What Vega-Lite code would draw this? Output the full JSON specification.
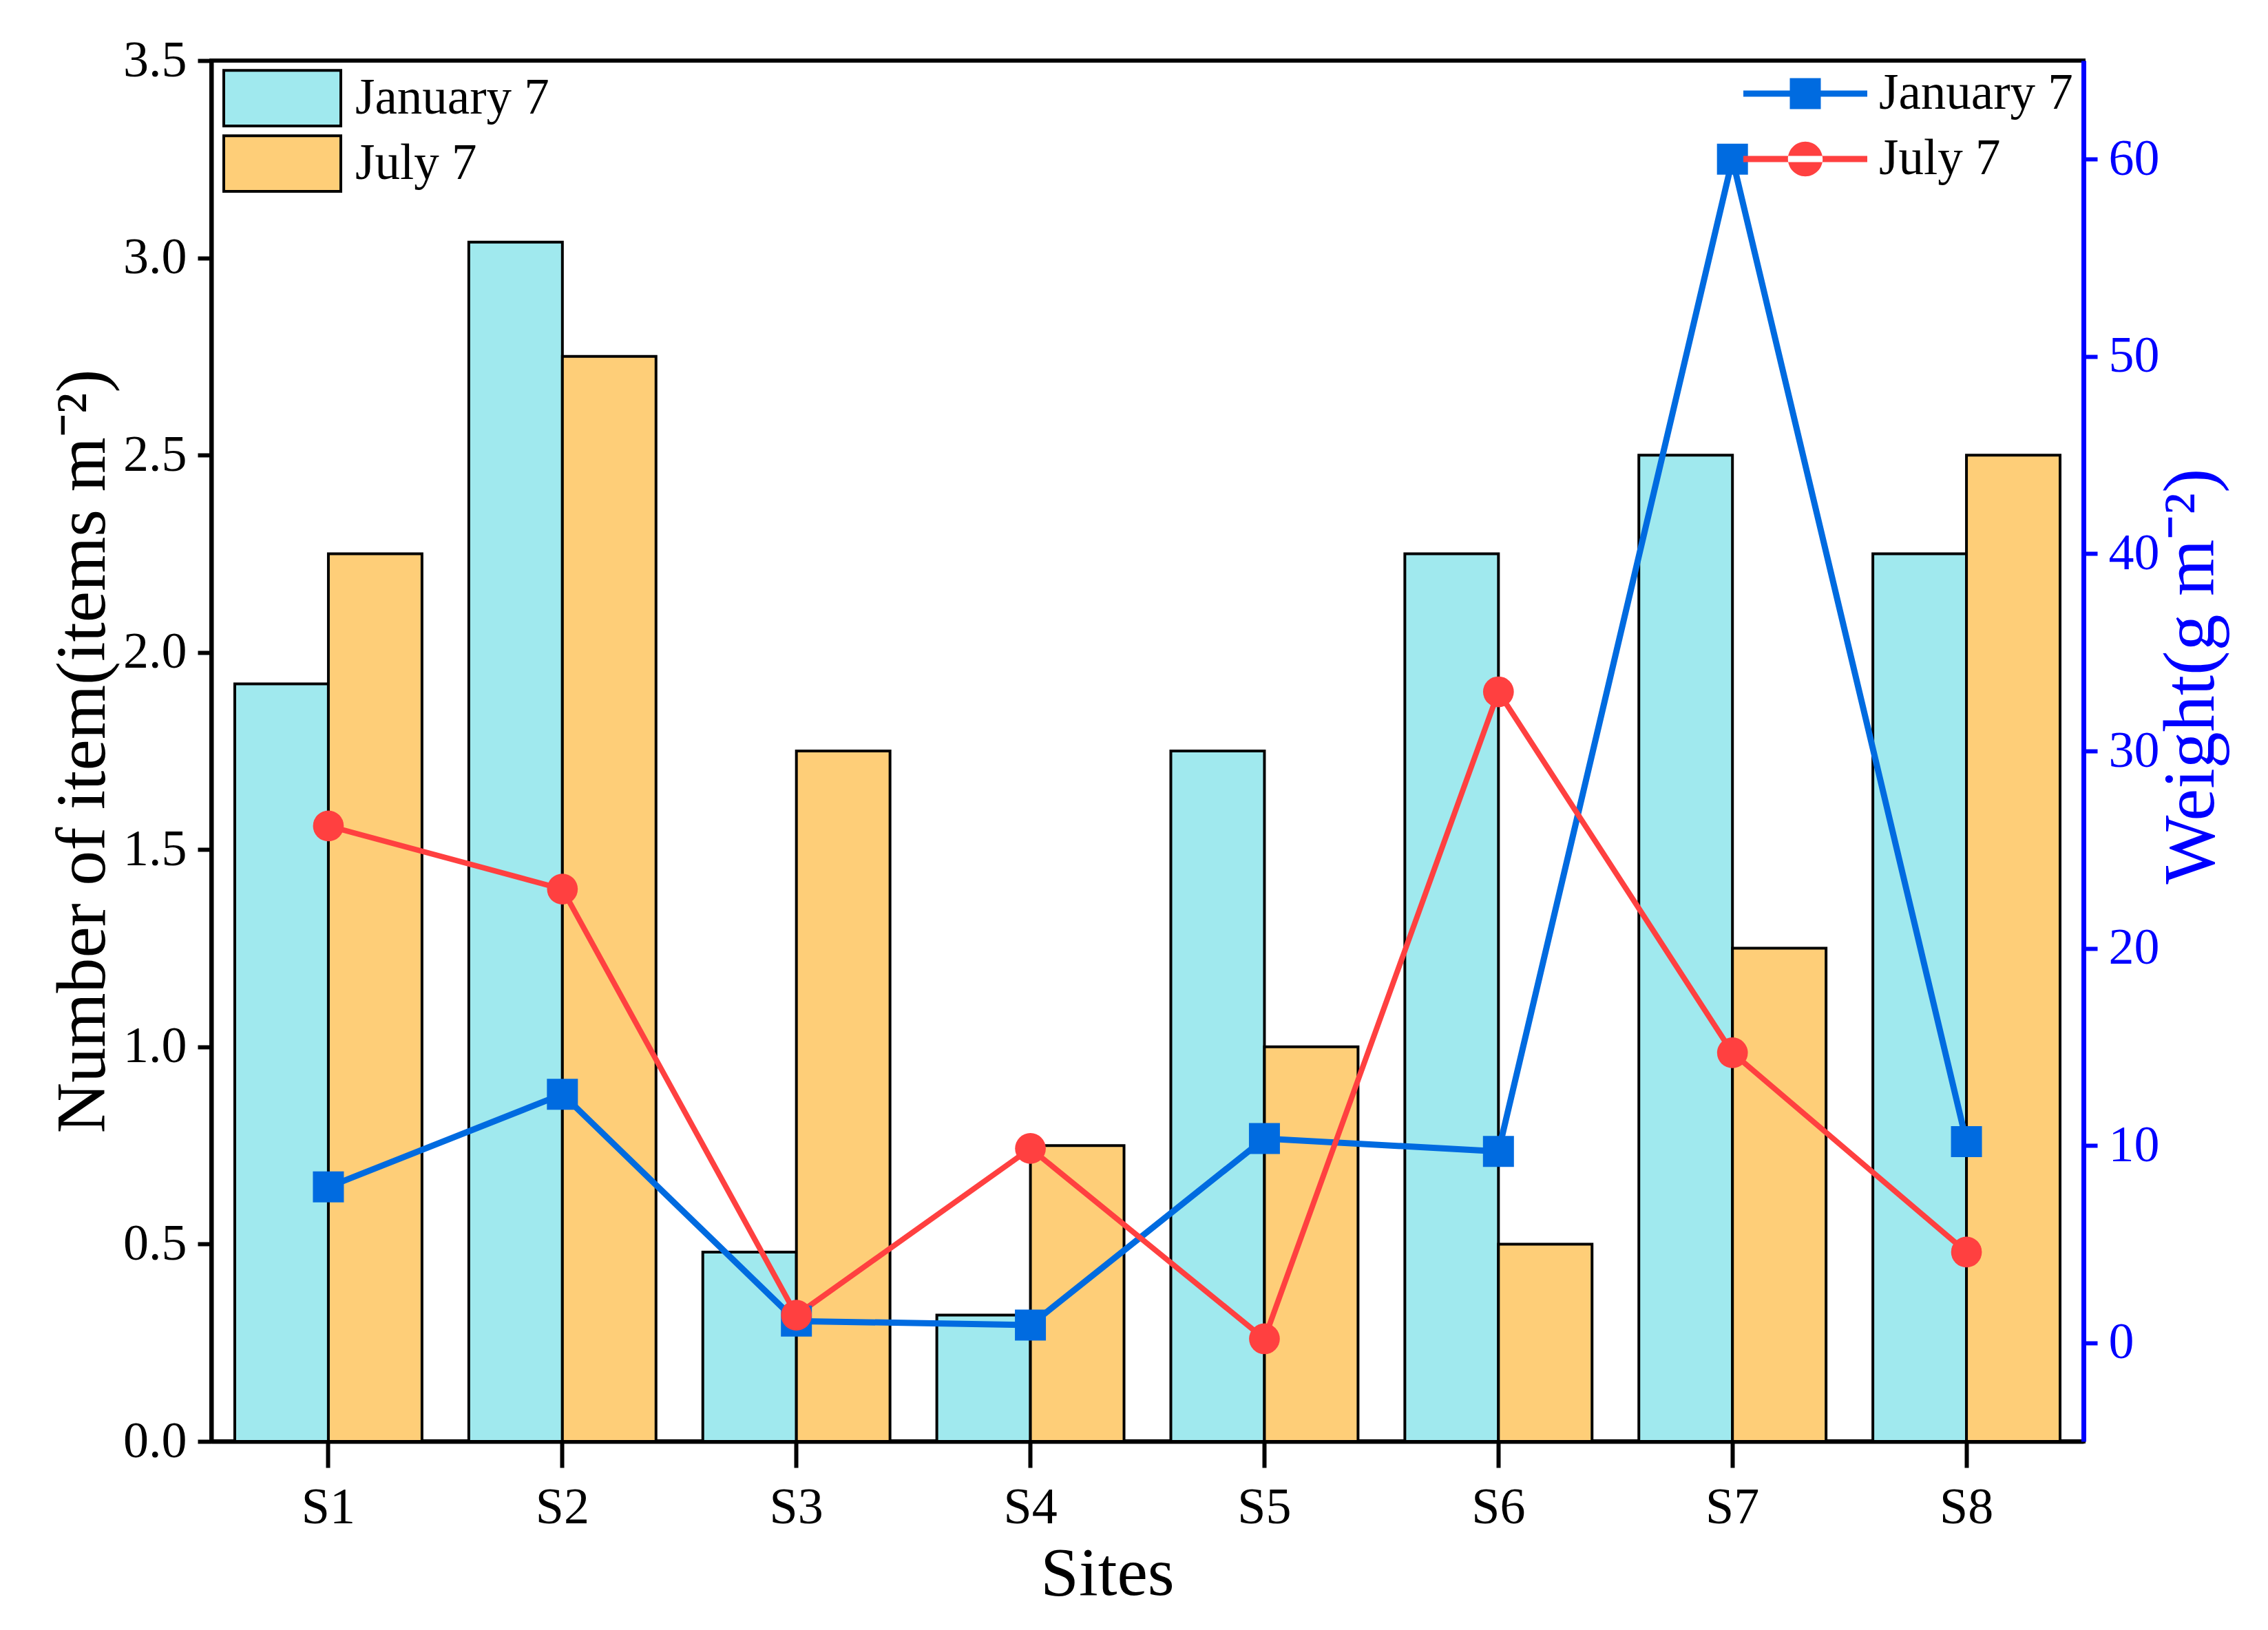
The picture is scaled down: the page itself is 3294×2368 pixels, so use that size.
{
  "$schema": "https://vega.github.io/schema/vega-lite/v6.json",
  "width": 2719,
  "height": 2006,
  "autosize": "none",
  "padding": {"left": 307, "top": 88, "right": 268, "bottom": 274},
  "background": "white",
  "config": {
    "font": "Liberation Serif",
    "view": {"stroke": "black", "strokeWidth": 6},
    "axis": {
      "grid": false,
      "labelFont": "Liberation Serif",
      "titleFont": "Liberation Serif",
      "labelFontSize": 74,
      "titleFontSize": 100,
      "titleFontWeight": "normal",
      "labelColor": "black",
      "titleColor": "black",
      "domainColor": "black",
      "tickColor": "black",
      "domainWidth": 6,
      "tickWidth": 6
    },
    "legend": {
      "labelFont": "Liberation Serif",
      "labelColor": "black",
      "labelFontSize": 73,
      "labelLimit": 1000,
      "padding": 0
    }
  },
  "datasets": {
    "counts": [
      {"site": "S1", "period": "January 7", "count": 1.92},
      {"site": "S1", "period": "July 7", "count": 2.25},
      {"site": "S2", "period": "January 7", "count": 3.04},
      {"site": "S2", "period": "July 7", "count": 2.75},
      {"site": "S3", "period": "January 7", "count": 0.48},
      {"site": "S3", "period": "July 7", "count": 1.75},
      {"site": "S4", "period": "January 7", "count": 0.32},
      {"site": "S4", "period": "July 7", "count": 0.75},
      {"site": "S5", "period": "January 7", "count": 1.75},
      {"site": "S5", "period": "July 7", "count": 1.0},
      {"site": "S6", "period": "January 7", "count": 2.25},
      {"site": "S6", "period": "July 7", "count": 0.5},
      {"site": "S7", "period": "January 7", "count": 2.5},
      {"site": "S7", "period": "July 7", "count": 1.25},
      {"site": "S8", "period": "January 7", "count": 2.25},
      {"site": "S8", "period": "July 7", "count": 2.5}
    ],
    "weights": [
      {"site": "S1", "period": "January 7", "weight": 7.9},
      {"site": "S2", "period": "January 7", "weight": 12.6},
      {"site": "S3", "period": "January 7", "weight": 1.1},
      {"site": "S4", "period": "January 7", "weight": 0.9},
      {"site": "S5", "period": "January 7", "weight": 10.35},
      {"site": "S6", "period": "January 7", "weight": 9.7},
      {"site": "S7", "period": "January 7", "weight": 60.0},
      {"site": "S8", "period": "January 7", "weight": 10.2},
      {"site": "S1", "period": "July 7", "weight": 26.2},
      {"site": "S2", "period": "July 7", "weight": 23.0},
      {"site": "S3", "period": "July 7", "weight": 1.4},
      {"site": "S4", "period": "July 7", "weight": 9.85},
      {"site": "S5", "period": "July 7", "weight": 0.2},
      {"site": "S6", "period": "July 7", "weight": 33.0},
      {"site": "S7", "period": "July 7", "weight": 14.7},
      {"site": "S8", "period": "July 7", "weight": 4.6}
    ]
  },
  "encoding": {
    "x": {
      "field": "site",
      "type": "nominal",
      "scale": {"paddingInner": 0.2, "paddingOuter": 0.1},
      "axis": {
        "title": "Sites",
        "labelAngle": 0,
        "tickSize": 38,
        "labelPadding": 22,
        "titlePadding": 10,
        "titleX": 1301
      }
    }
  },
  "layer": [
    {
      "data": {"name": "counts"},
      "mark": {"type": "bar", "stroke": "black", "strokeWidth": 4},
      "encoding": {
        "xOffset": {"field": "period", "sort": ["January 7", "July 7"]},
        "y": {
          "field": "count",
          "type": "quantitative",
          "scale": {"domain": [0, 3.5], "nice": false},
          "axis": {
            "title": "Number of item(items m⁻²)",
            "values": [0, 0.5, 1, 1.5, 2, 2.5, 3, 3.5],
            "format": ".1f",
            "tickSize": 20,
            "labelPadding": 16,
            "titlePadding": 6,
            "titleFontSize": 102
          }
        },
        "color": {
          "field": "period",
          "type": "nominal",
          "scale": {"domain": ["January 7", "July 7"], "range": ["#A0E9EE", "#FECE78"]},
          "legend": {
            "orient": "none",
            "legendX": 16,
            "legendY": 10,
            "title": null,
            "symbolType": "M-1,-0.95H3V0.95H-1Z",
            "symbolSize": 7225,
            "symbolStrokeColor": "black",
            "symbolStrokeWidth": 4,
            "labelOffset": 104,
            "rowPadding": -2
          }
        }
      }
    },
    {
      "data": {"name": "weights"},
      "encoding": {
        "y": {
          "field": "weight",
          "type": "quantitative",
          "scale": {"domain": [-5, 65], "nice": false},
          "axis": {
            "orient": "right",
            "title": "Weight(g m⁻²)",
            "values": [0, 10, 20, 30, 40, 50, 60],
            "tickSize": 20,
            "labelPadding": 16,
            "titlePadding": 100,
            "titleAngle": 270,
            "titleY": 894,
            "titleFontSize": 106,
            "domainColor": "#0000FF",
            "domainWidth": 7,
            "tickColor": "#0000FF",
            "labelColor": "#0000FF",
            "titleColor": "#0000FF"
          }
        }
      },
      "layer": [
        {
          "transform": [{"filter": "datum.period === 'January 7'"}],
          "mark": {"type": "line", "color": "#006BE0", "strokeWidth": 9}
        },
        {
          "transform": [{"filter": "datum.period === 'July 7'"}],
          "mark": {"type": "line", "color": "#FF4040", "strokeWidth": 8}
        },
        {
          "transform": [{"filter": "datum.period === 'January 7'"}],
          "mark": {"type": "point", "shape": "square", "filled": true, "size": 2025, "color": "#006BE0", "opacity": 1}
        },
        {
          "transform": [{"filter": "datum.period === 'July 7'"}],
          "mark": {"type": "point", "shape": "circle", "filled": true, "size": 2000, "color": "#FF4040", "opacity": 1}
        },
        {
          "mark": {"type": "point", "filled": true, "opacity": 0},
          "encoding": {
            "color": {
              "field": "period",
              "type": "nominal",
              "scale": {"domain": ["January 7", "July 7"], "range": ["#006BE0", "#FF4040"]},
              "legend": {
                "orient": "none",
                "legendX": 2225,
                "legendY": 3,
                "title": null,
                "symbolSize": 8100,
                "symbolStrokeWidth": 0,
                "labelOffset": 107,
                "rowPadding": 13,
                "symbolOpacity": 1
              }
            },
            "shape": {
              "field": "period",
              "type": "nominal",
              "scale": {
                "domain": ["January 7", "July 7"],
                "range": [
                  "M-1,-0.1H3V0.1H-1Z M0.5,-0.5H1.5V0.5H0.5Z",
                  "M-1,-0.1H3V0.1H-1Z M0.44,0A0.56,0.56 0 1,0 1.56,0A0.56,0.56 0 1,0 0.44,0Z"
                ]
              },
              "legend": {
                "orient": "none",
                "legendX": 2225,
                "legendY": 3,
                "title": null,
                "symbolSize": 8100,
                "symbolStrokeWidth": 0,
                "labelOffset": 107,
                "rowPadding": 13,
                "symbolOpacity": 1
              }
            }
          }
        }
      ]
    }
  ],
  "resolve": {"scale": {"y": "independent", "color": "independent", "shape": "independent"}}
}
